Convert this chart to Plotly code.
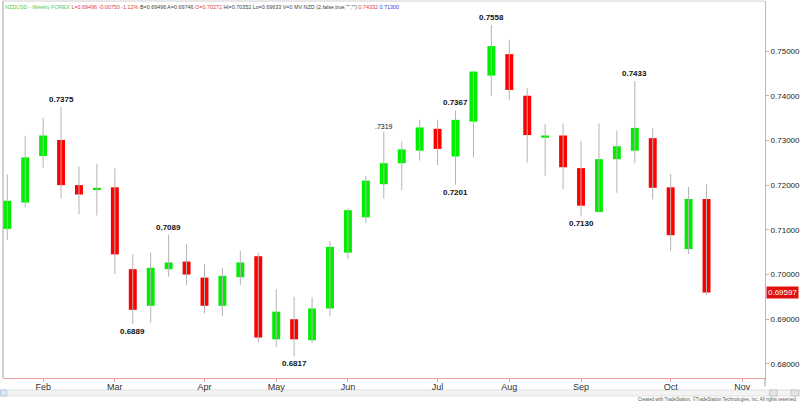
import plotly.graph_objects as go
import pandas as pd

# ---- data (NZD/USD weekly, bars dated Friday) ----
dates = pd.date_range("2017-01-20", periods=40, freq="7D")
open_ = [0.7102, 0.7161, 0.7265, 0.7301, 0.7200, 0.7191, 0.7195, 0.7012, 0.6930, 0.7012,
         0.7029, 0.6993, 0.6930, 0.6994, 0.7041, 0.6855, 0.6900, 0.6853, 0.6924, 0.7049,
         0.7128, 0.7202, 0.7249, 0.7277, 0.7326, 0.7264, 0.7342, 0.7445, 0.7493, 0.7400,
         0.7306, 0.7311, 0.7238, 0.7140, 0.7258, 0.7277, 0.7305, 0.7195, 0.7057, 0.7169]
high = [0.7224, 0.7310, 0.7351, 0.7375, 0.7242, 0.7248, 0.7238, 0.7045, 0.7049, 0.7089,
        0.7068, 0.7023, 0.7015, 0.7053, 0.7049, 0.6967, 0.6950, 0.6949, 0.7075, 0.7148,
        0.7220, 0.7319, 0.7297, 0.7346, 0.7346, 0.7367, 0.7455, 0.7558, 0.7525, 0.7417,
        0.7337, 0.7338, 0.7299, 0.7338, 0.7322, 0.7433, 0.7327, 0.7225, 0.7196, 0.7202]
low = [0.7077, 0.7150, 0.7239, 0.7171, 0.7135, 0.7132, 0.7001, 0.6889, 0.6892, 0.6995,
       0.6977, 0.6913, 0.6907, 0.6977, 0.6848, 0.6837, 0.6817, 0.6847, 0.6907, 0.7035,
       0.7115, 0.7170, 0.7189, 0.7255, 0.7245, 0.7201, 0.7262, 0.7400, 0.7390, 0.7250,
       0.7221, 0.7191, 0.7130, 0.7138, 0.7183, 0.7249, 0.7168, 0.7053, 0.7046, 0.6954]
close = [0.7165, 0.7262, 0.7311, 0.7200, 0.7179, 0.7194, 0.7045, 0.6921, 0.7015, 0.7027,
         0.7000, 0.6930, 0.6997, 0.7027, 0.6859, 0.6917, 0.6855, 0.6924, 0.7062, 0.7144,
         0.7210, 0.7249, 0.7280, 0.7329, 0.7281, 0.7346, 0.7454, 0.7511, 0.7413, 0.7312,
         0.7311, 0.7240, 0.7154, 0.7258, 0.7287, 0.7328, 0.7194, 0.7088, 0.7169, 0.69597]

# swing labels: (bar index, text, above/below)
label_idx = [3, 7, 9, 16, 21, 25, 25, 27, 32, 35]
label_txt = ["0.7375", "0.6889", "0.7089", "0.6817", ".7319", "0.7367", "0.7201", "0.7558", "0.7130", "0.7433"]
label_pos = ["high", "low", "high", "low", "high", "high", "low", "high", "low", "high"]

month_ticks = ["2017-02-03", "2017-03-03", "2017-04-07", "2017-05-05", "2017-06-02",
               "2017-07-07", "2017-08-04", "2017-09-01", "2017-10-06", "2017-11-03"]
month_names = ["Feb", "Mar", "Apr", "May", "Jun", "Jul", "Aug", "Sep", "Oct", "Nov"]
price_ticks = [0.68, 0.69, 0.70, 0.71, 0.72, 0.73, 0.74, 0.75]
last_price = 0.69597

UP = "#00ee00"
DOWN = "#ff0000"
AXIS = "#f2a0a0"
FONT = "Liberation Sans, Arial, sans-serif"

fig = go.Figure()

# wicks
wx, wy = [], []
for d, lo, hi in zip(dates, low, high):
    wx += [d, d, None]
    wy += [lo, hi, None]
fig.add_trace(go.Scatter(x=wx, y=wy, mode="lines", line=dict(color="#b4b4b4", width=1),
                         hoverinfo="skip"))

# bodies
base = [min(o, c) for o, c in zip(open_, close)]
size = [max(abs(c - o), 0.0003) for o, c in zip(open_, close)]
colors = [UP if c >= o else DOWN for o, c in zip(open_, close)]
fig.add_trace(go.Bar(x=dates, y=size, base=base, marker=dict(color=colors, line=dict(width=0)),
                     width=3.1 * 86400000, hoverinfo="skip"))

# swing labels
for i, t, p in zip(label_idx, label_txt, label_pos):
    small = t.startswith(".")
    txt = t if small else "<b>%s</b>" % t
    if p == "high":
        fig.add_annotation(x=dates[i], y=high[i], text=txt, showarrow=False,
                           yanchor="bottom", yshift=0 if small else 1,
                           font=dict(family=FONT, size=7 if small else 8, color="#111"))
    else:
        fig.add_annotation(x=dates[i], y=low[i], text=txt, showarrow=False,
                           yanchor="top", yshift=-1,
                           font=dict(family=FONT, size=8, color="#111"))

# last price box
fig.add_annotation(xref="paper", x=1, xanchor="left", xshift=1, y=last_price, yref="y",
                   text="%.5f" % last_price, showarrow=False, bgcolor="#e01010",
                   borderpad=1, font=dict(family=FONT, size=8, color="white"))

# header
header = ("<span style='color:#55cc55'>NZDUSD - Weekly FOREX</span> "
          "<span style='color:#e04040'>L=0.69496 -0.00750 -1.12%</span> "
          "<span style='color:#444'>B=0.69496 A=0.69746</span> "
          "<span style='color:#e04040'>O=0.70271</span> "
          "<span style='color:#444'>Hi=0.70352 Lo=0.69633 V=0 MV NZD (2,false,true,\"\",\"\")</span> "
          "<span style='color:#e04040'>0.74332</span> "
          "<span style='color:#4040e0'>0.71300</span>")
fig.add_annotation(xref="paper", yref="paper", x=0, y=1, xanchor="left", yanchor="top",
                   yshift=-1, text=header, showarrow=False,
                   font=dict(family=FONT, size=5.4, color="#444"))

# credit
fig.add_annotation(xref="paper", yref="paper", x=1.0446, y=-0.0565, xanchor="right",
                   yanchor="middle", showarrow=False,
                   text="Created with TradeStation. \u00a9TradeStation Technologies, Inc. All rights reserved.",
                   font=dict(family=FONT, size=4.5, color="#555"))

sb0, sb1 = -0.0318, -0.0477
shapes = [
    dict(type="line", xref="paper", yref="paper", x0=0, x1=0, y0=0, y1=1,
         line=dict(color="#a0a0a0", width=1)),
    dict(type="line", xref="paper", yref="paper", x0=0, x1=1, y0=1, y1=1,
         line=dict(color="#d0d0d0", width=1)),
    dict(type="line", xref="paper", yref="paper", x0=1, x1=1, y0=0, y1=-0.022,
         line=dict(color="#999", width=1)),
    dict(type="rect", xref="paper", yref="paper", x0=-0.004, x1=1.046, y0=sb0, y1=sb1,
         fillcolor="#f3f3f3", line=dict(color="#e0e0e0", width=1), layer="below"),
    dict(type="rect", xref="paper", yref="paper", x0=-0.003, x1=0.005, y0=sb0, y1=sb1,
         fillcolor="#dde8f5", line=dict(color="#b8c8dc", width=1), layer="below"),
    dict(type="rect", xref="paper", yref="paper", x0=1.006, x1=1.016, y0=sb0, y1=sb1,
         fillcolor="#e4e4e4", line=dict(color="#c8c8c8", width=1), layer="below"),
    dict(type="rect", xref="paper", yref="paper", x0=1.034, x1=1.044, y0=sb0, y1=sb1,
         fillcolor="#e4e4e4", line=dict(color="#c8c8c8", width=1), layer="below"),
]

fig.update_layout(
    width=800, height=402,
    margin=dict(l=3, r=35, t=1, b=24),
    plot_bgcolor="white", paper_bgcolor="white",
    showlegend=False, shapes=shapes,
    xaxis=dict(type="date", range=["2017-01-18 08:00", "2017-11-11 20:00"],
               tickvals=month_ticks, ticktext=month_names,
               ticks="outside", ticklen=3, tickcolor=AXIS,
               ticklabelstandoff=-3,
               showline=True, linecolor=AXIS, linewidth=1,
               showgrid=False, zeroline=False,
               tickfont=dict(family=FONT, size=9, color="#333")),
    yaxis=dict(side="right", range=[0.67685, 0.76119],
               tickvals=price_ticks, tickformat=".5f",
               ticks="outside", ticklen=3, tickcolor=AXIS,
               showline=True, linecolor=AXIS, linewidth=1,
               showgrid=False, zeroline=False,
               tickfont=dict(family=FONT, size=8, color="#222")),
)

fig.write_html("out.html")
